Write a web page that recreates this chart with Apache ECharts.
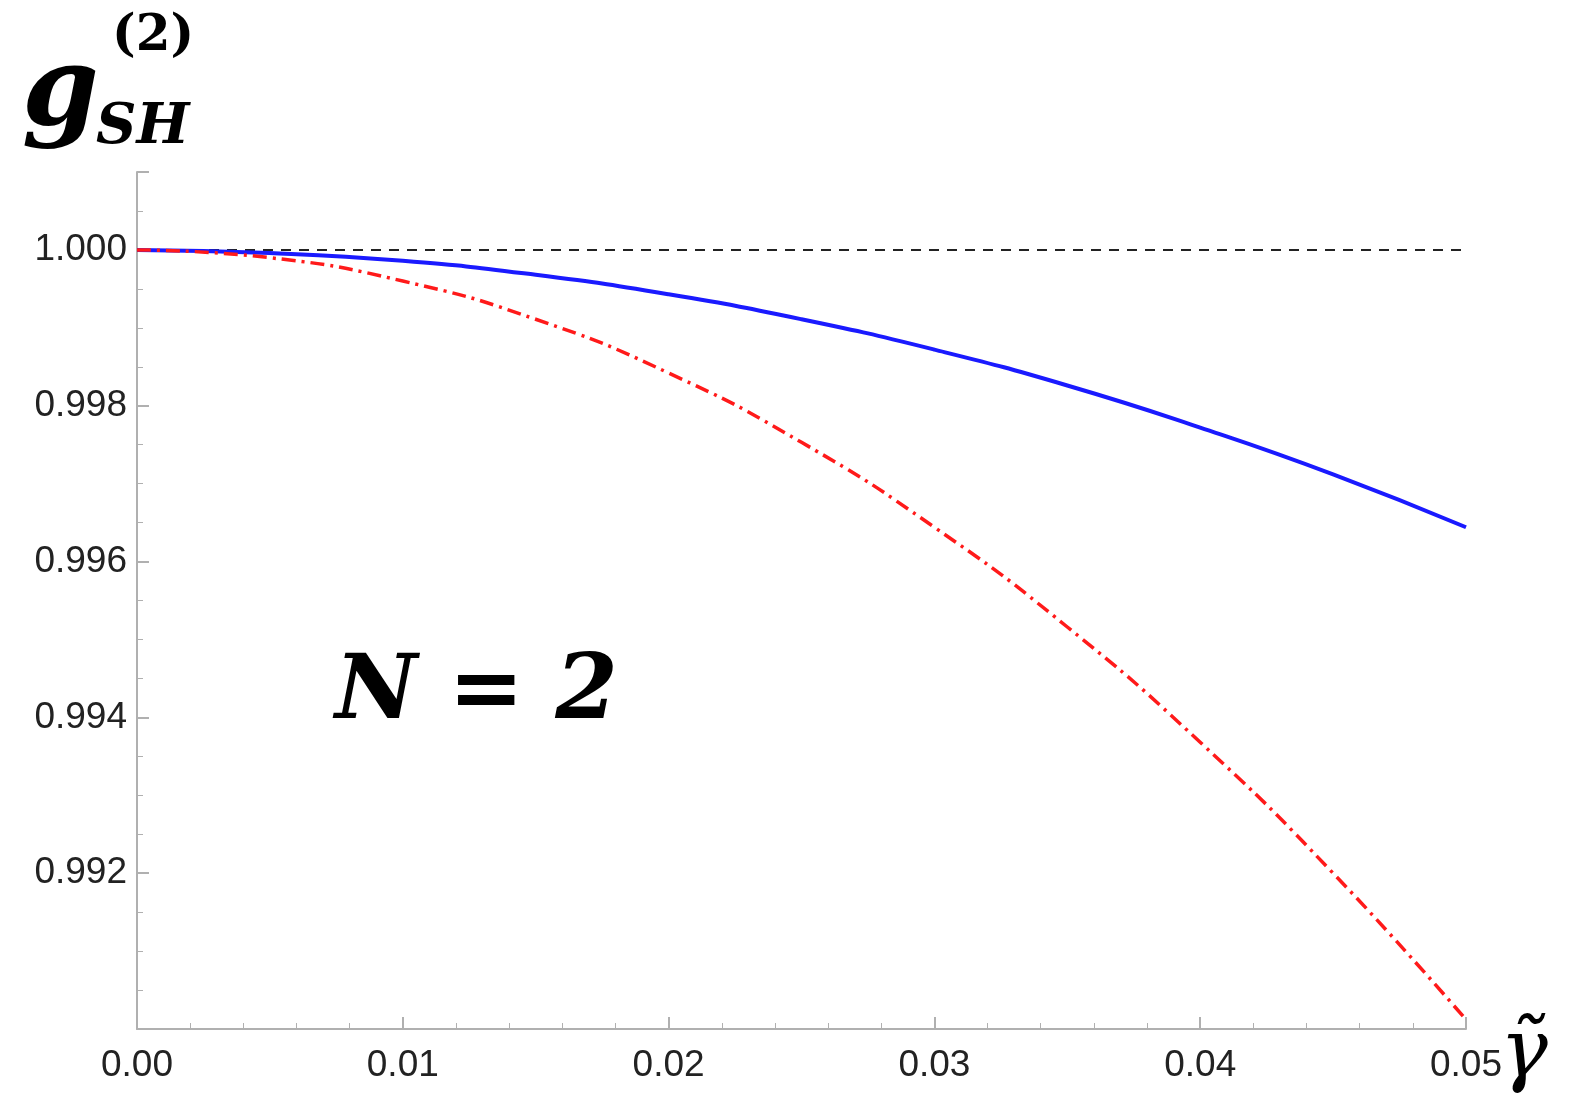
<!DOCTYPE html>
<html>
<head>
<meta charset="utf-8">
<script src="https://cdn.jsdelivr.net/npm/echarts@6/dist/echarts.min.js"></script>
<style>html,body{margin:0;padding:0;background:#fff}#chart{width:1594px;height:1115px}</style>
</head>
<body>
<div id="chart"></div>
<script>
// values
var xValues = [0, 0.005, 0.01, 0.015, 0.02, 0.025, 0.03, 0.035, 0.04, 0.045, 0.05];
var blueValues = [1.0, 0.99996, 0.99986, 0.99968, 0.99943, 0.99911, 0.99872, 0.99826, 0.99772, 0.99712, 0.99644];
var redValues = [1.0, 0.9999, 0.9996, 0.99911, 0.99842, 0.99753, 0.99644, 0.99516, 0.99368, 0.992, 0.99012];
var yTicks = ['0.992', '0.994', '0.996', '0.998', '1.000'];

var chart = echarts.init(document.getElementById('chart'));

function pairs(vals) {
    return xValues.map(function (x, i) { return [x, vals[i]]; });
}

var axisCol = '#b0b0b0';
var option = {
    animation: false,
    grid: {left: 137, right: 128, top: 172, bottom: 86},
    xAxis: {
        type: 'value', min: 0, max: 0.05, interval: 0.01,
        axisLine: {lineStyle: {color: axisCol, width: 2}},
        axisTick: {inside: true, length: 12, lineStyle: {color: axisCol, width: 2}},
        minorTick: {show: true, splitNumber: 5, length: 6, lineStyle: {color: axisCol}},
        splitLine: {show: false},
        axisLabel: {color: '#222', fontSize: 37, fontFamily: 'Liberation Sans', margin: 18,
            formatter: function (v) { return v.toFixed(2); }}
    },
    yAxis: {
        type: 'value', min: 0.990, max: 1.001, interval: 0.002,
        axisLine: {show: true, lineStyle: {color: axisCol, width: 2}},
        axisTick: {show: true, inside: true, length: 12, lineStyle: {color: axisCol, width: 2}},
        minorTick: {show: true, splitNumber: 4, length: 6, lineStyle: {color: axisCol}},
        splitLine: {show: false},
        axisLabel: {color: '#222', fontSize: 37, fontFamily: 'Liberation Sans', margin: 10,
            showMaxLabel: false,
            formatter: function (v) {
                var s = v.toFixed(3);
                return yTicks.indexOf(s) >= 0 ? s : '';
            }}
    },
    graphic: [
        {type: 'text', left: 22, top: 40, style: {
            text: 'g', font: 'italic bold 110px "DejaVu Serif"', fill: '#000'}},
        {type: 'text', left: 112, top: 12, style: {
            text: '(2)', font: 'bold 50px "DejaVu Serif"', fill: '#000'}},
        {type: 'text', left: 96, top: 100, style: {
            text: 'SH', font: 'italic bold 56px "DejaVu Serif"', fill: '#000'}},
        {type: 'text', left: 1500, top: 1015, style: {
            text: 'γ\u0303', font: 'italic 80px "DejaVu Serif"', fill: '#000'}},
        {type: 'text', left: 335, top: 650, style: {
            text: 'N = 2', font: 'italic bold 90px "DejaVu Serif"', fill: '#000'}}
    ],
    series: [
        {type: 'line', data: [[0, 1], [0.05, 1]], symbol: 'none',
            lineStyle: {color: '#222', width: 2, type: [10, 8]}, z: 1},
        {type: 'line', data: pairs(blueValues), symbol: 'none', smooth: true,
            lineStyle: {color: '#1a1aff', width: 4}, z: 2},
        {type: 'line', data: pairs(redValues), symbol: 'none', smooth: true,
            lineStyle: {color: '#ff1a1a', width: 3.5, type: [14, 6, 3, 6]}, z: 3}
    ]
};
chart.setOption(option);
</script>
</body>
</html>
